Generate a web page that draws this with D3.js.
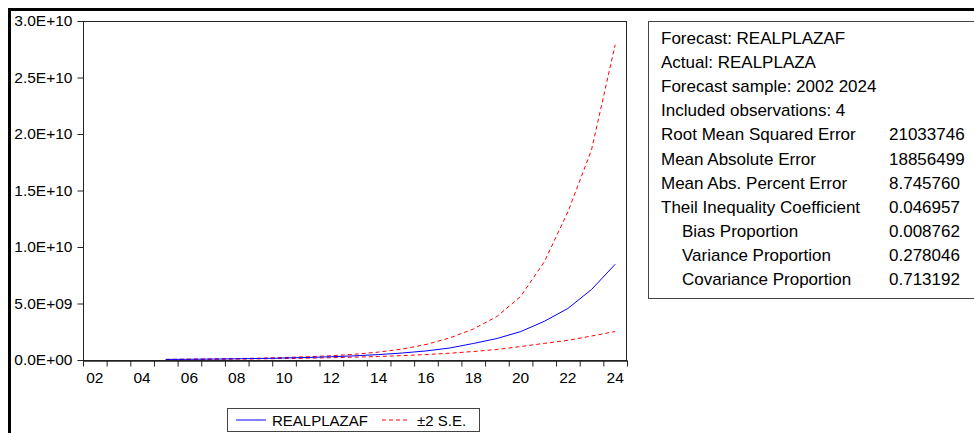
<!DOCTYPE html>
<html>
<head>
<meta charset="utf-8">
<script src="https://cdn.jsdelivr.net/npm/d3@7"></script>
<style>
  body { margin: 0; background: #fff; }
  svg text { font-family: 'Liberation Sans', Arial, sans-serif; fill: #000; }
</style>
</head>
<body>
<svg id="plot"></svg>
<script>
const width = 974;
const height = 433;

// plot area
const plotLeft = 83;
const plotRight = 627;
const plotTop = 21;
const plotBottom = 360;

// data
const years = d3.range(2005, 2025);
const forecast = [5.0e7, 6.4e7, 8.2e7, 1.05e8, 1.35e8, 1.75e8, 2.25e8, 2.9e8, 3.7e8, 4.8e8,
  6.2e8, 8.0e8, 1.06e9, 1.46e9, 1.90e9, 2.51e9, 3.42e9, 4.56e9, 6.24e9, 8.47e9];
const upper = [5.6e7, 7.3e7, 9.5e7, 1.25e8, 1.65e8, 2.2e8, 2.9e8, 3.8e8, 5.1e8, 7.0e8,
  9.7e8, 1.37e9, 1.95e9, 2.74e9, 3.85e9, 5.62e9, 8.67e9, 1.31e10, 1.86e10, 2.79e10];
const lower = [4.1e7, 5.1e7, 6.4e7, 8.0e7, 1.0e8, 1.3e8, 1.6e8, 2.0e8, 2.5e8, 3.1e8,
  3.9e8, 4.8e8, 6.0e8, 7.5e8, 9.3e8, 1.19e9, 1.47e9, 1.74e9, 2.12e9, 2.52e9];

const yTicks = [0, 5e9, 1e10, 1.5e10, 2e10, 2.5e10, 3e10];
const xLabelYears = d3.range(2002, 2025, 2);

const statLines = [
  'Forecast: REALPLAZAF',
  'Actual: REALPLAZA',
  'Forecast sample: 2002 2024',
  'Included observations: 4'
];
const statNames = ['Root Mean Squared Error', 'Mean Absolute Error', 'Mean Abs. Percent Error',
  'Theil Inequality Coefficient', 'Bias Proportion', 'Variance Proportion', 'Covariance Proportion'];
const statValues = ['21033746', '18856499', '8.745760', '0.046957', '0.008762', '0.278046', '0.713192'];
const statIndent = [false, false, false, false, true, true, true];

const legendItems = [
  {label: 'REALPLAZAF', color: '#0000ff', dash: null},
  {label: '\u00b12 S.E.', color: '#ff0000', dash: '4,3'}
];

let svg, sx, sy;

function main(){
  initSvg();
  initScales();
  drawAxes();
  drawLines();
  drawLegend();
  drawStats();
}

function initSvg(){
  svg = d3.select('svg#plot')
  .attr('width', width)
  .attr('height', height);

  // outer frame, runs off the right and bottom
  svg.append('rect')
  .attr('x', 9.5).attr('y', 9.5)
  .attr('width', 1000).attr('height', 1000)
  .attr('fill', 'none')
  .attr('stroke', '#000')
  .attr('stroke-width', 3);
}

function initScales(){
  sx = d3.scaleLinear()
  .domain([2001.5, 2024.5])
  .range([plotLeft, plotRight]);

  sy = d3.scaleLinear()
  .domain([0, 3e10])
  .range([plotBottom, plotTop]);
}

function sciFormat(d){
  if (d === 0) return '0.0E+00';
  let e = Math.floor(Math.log10(d));
  let m = d / Math.pow(10, e);
  return m.toFixed(1) + 'E+' + String(e).padStart(2, '0');
}

function drawAxes(){
  // plot box
  svg.append('rect')
  .attr('x', plotLeft + 0.5).attr('y', plotTop + 0.5)
  .attr('width', plotRight - plotLeft - 1)
  .attr('height', plotBottom - plotTop)
  .attr('fill', 'none')
  .attr('stroke', '#222');

  let yAxis = svg.append('g')
  .attr('transform', `translate(${plotLeft + 0.5},0)`)
  .call(d3.axisLeft(sy).tickValues(yTicks).tickFormat(sciFormat).tickSize(6).tickPadding(5));
  yAxis.select('.domain').remove();
  yAxis.selectAll('text').attr('font-size', 15.5).attr('font-family', null);
  yAxis.selectAll('line').attr('stroke', '#222');

  let xAxis = svg.append('g')
  .attr('transform', `translate(0,${plotBottom + 0.5})`)
  .call(d3.axisBottom(sx).tickValues(d3.range(2001.5, 2025, 1)).tickFormat('').tickSize(6).tickSizeOuter(0));
  xAxis.select('.domain').attr('stroke', '#222').attr('stroke-width', 1.5);
  xAxis.selectAll('line').attr('stroke', '#222');

  svg.selectAll('.xLabel')
  .data(xLabelYears)
  .enter()
  .append('text')
  .attr('class', 'xLabel')
  .attr('x', d => sx(d))
  .attr('y', plotBottom + 23)
  .attr('text-anchor', 'middle')
  .attr('font-size', 15.5)
  .text(d => String(d % 100).padStart(2, '0'));
}

function drawLines(){
  let line = d3.line()
  .x((d, i) => sx(years[i]))
  .y(d => sy(d));

  let series = [
    {values: upper, color: '#ff0000', dash: '4,3'},
    {values: lower, color: '#ff0000', dash: '4,3'},
    {values: forecast, color: '#0000ff', dash: null}
  ];

  svg.selectAll('.series')
  .data(series)
  .enter()
  .append('path')
  .attr('class', 'series')
  .attr('d', d => line(d.values))
  .attr('fill', 'none')
  .attr('stroke', d => d.color)
  .attr('stroke-width', 1)
  .attr('stroke-dasharray', d => d.dash);
}

function drawLegend(){
  svg.append('rect')
  .attr('x', 227.5).attr('y', 408.5)
  .attr('width', 252).attr('height', 23)
  .attr('fill', '#fff')
  .attr('stroke', '#444');

  let offsets = [236, 382];
  let item = svg.selectAll('.legendItem')
  .data(legendItems)
  .enter()
  .append('g')
  .attr('class', 'legendItem')
  .attr('transform', (d, i) => `translate(${offsets[i]},420)`);

  item.append('line')
  .attr('x1', 0).attr('x2', (d, i) => i == 0 ? 30 : 27)
  .attr('stroke', d => d.color)
  .attr('stroke-width', 1)
  .attr('stroke-dasharray', d => d.dash);

  item.append('text')
  .attr('x', (d, i) => i == 0 ? 36 : 35)
  .attr('y', 5.5)
  .attr('font-size', 15)
  .text(d => d.label);
}

function drawStats(){
  svg.append('rect')
  .attr('x', 648.5).attr('y', 21.5)
  .attr('width', 400).attr('height', 277)
  .attr('fill', '#fff')
  .attr('stroke', '#444');

  let lineStep = 24.1;
  let firstBase = 44;

  svg.selectAll('.statLine')
  .data(statLines)
  .enter()
  .append('text')
  .attr('class', 'statLine')
  .attr('x', 661)
  .attr('y', (d, i) => firstBase + i * lineStep)
  .attr('font-size', 17)
  .text(d => d);

  svg.selectAll('.statName')
  .data(statNames)
  .enter()
  .append('text')
  .attr('class', 'statName')
  .attr('x', (d, i) => statIndent[i] ? 682 : 661)
  .attr('y', (d, i) => firstBase + (i + statLines.length) * lineStep)
  .attr('font-size', 17)
  .text(d => d);

  svg.selectAll('.statValue')
  .data(statValues)
  .enter()
  .append('text')
  .attr('class', 'statValue')
  .attr('x', 889)
  .attr('y', (d, i) => firstBase + (i + statLines.length) * lineStep)
  .attr('font-size', 17)
  .text(d => d);
}

document.addEventListener('DOMContentLoaded', main);
</script>
</body>
</html>
